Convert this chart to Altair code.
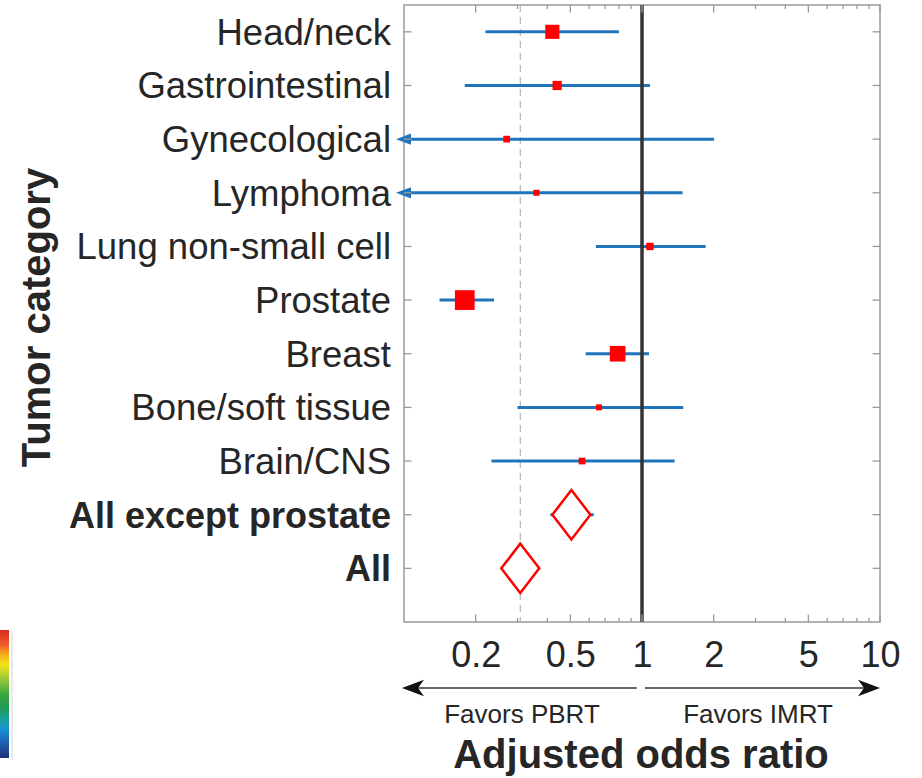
import altair as alt
import pandas as pd

# ---- data -------------------------------------------------------------
categories = [
    "Head/neck", "Gastrointestinal", "Gynecological", "Lymphoma",
    "Lung non-small cell", "Prostate", "Breast", "Bone/soft tissue",
    "Brain/CNS", "All except prostate", "All",
]
odds_ratio = [0.42, 0.44, 0.27, 0.36, 1.08, 0.18, 0.79, 0.66, 0.56, 0.505, 0.308]
ci_low = [0.22, 0.18, 0.10, 0.10, 0.64, 0.141, 0.58, 0.30, 0.233, 0.412, None]
ci_high = [0.80, 1.08, 2.01, 1.48, 1.85, 0.239, 1.07, 1.49, 1.37, 0.627, None]
# lower limit runs past the left edge of the axis
ci_low_truncated = [False, False, True, True, False, False, False, False, False, False, False]
# marker weight (square area) for each tumour category
weight = [200, 85, 45, 36, 55, 390, 245, 36, 45, None, None]
pooled = [False] * 9 + [True, True]

x_labels = [0.2, 0.5, 1, 2, 5, 10]
major_ticks = [0.2, 0.5, 1, 2, 5, 10]
minor_ticks = [0.3, 0.4, 0.6, 0.7, 0.8, 0.9, 3, 4, 6, 7, 8, 9]
null_value = 1

df = pd.DataFrame({
    "category": categories,
    "row": list(range(1, len(categories) + 1)),
    "or": odds_ratio,
    "lo": ci_low,
    "hi": ci_high,
    "truncated": ci_low_truncated,
    "weight": weight,
    "pooled": pooled,
})

W, H = 476, 617
FONT = "Liberation Sans"
TXT = "#262626"
BLUE = "#1f74bb"
RED = "#ff0000"
BOX = "#9a9a9a"

xs = alt.Scale(type="log", domain=[0.1, 10], nice=False)
ys = alt.Scale(domain=[0.5, len(categories) + 1], reverse=True, nice=False, zero=False)

base = alt.Chart(df)
one = alt.Chart(pd.DataFrame({"k": [0]}))

# dashed line at the pooled overall estimate
pooled_line = base.mark_rule(strokeDash=[7, 5], color="#b5b5b5", strokeWidth=1.2).encode(
    x=alt.X("or:Q", scale=xs, axis=alt.Axis(
        values=x_labels, labelExpr="'' + datum.value", labelFont=FONT, labelFontSize=36,
        labelColor=TXT, ticks=False, tickSize=0, domain=False, grid=False,
        labelPadding=44, labelBaseline="alphabetic", labelOverlap=False,
        labelBound=False, labelFlush=False, title=None)),
).transform_filter("datum.category == 'All'")

ci = base.mark_rule(color=BLUE, strokeWidth=3).encode(
    x=alt.X("lo:Q", scale=xs),
    x2="hi:Q",
    y=alt.Y("row:Q", scale=ys, axis=None),
).transform_filter("isValid(datum.lo)")

ci_arrow = base.mark_point(
    shape="M-1,0L1,-0.75L1,0.75Z", filled=True, color=BLUE, opacity=1, size=225,
    xOffset=-0.5, clip=False,
).encode(
    x=alt.X("lo:Q", scale=xs),
    y=alt.Y("row:Q", scale=ys),
).transform_filter("datum.truncated")

ref_line = alt.Chart(pd.DataFrame({"v": [null_value]})).mark_rule(
    color="#333333", strokeWidth=3.5
).encode(x=alt.X("v:Q", scale=xs))

squares = base.mark_square(color=RED, opacity=1).encode(
    x=alt.X("or:Q", scale=xs),
    y=alt.Y("row:Q", scale=ys),
    size=alt.Size("weight:Q", scale=None, legend=None),
).transform_filter("!datum.pooled")

diamonds = base.mark_point(
    shape="M0,-1.3L1,0L0,1.3L-1,0Z", filled=True, fill="white", stroke=RED,
    strokeWidth=2.5, opacity=1, size=1444,
).encode(
    x=alt.X("or:Q", scale=xs),
    y=alt.Y("row:Q", scale=ys),
).transform_filter("datum.pooled")

# inward ticks (box style axes)
major_df = alt.Chart(pd.DataFrame({"v": major_ticks}))
minor_df = alt.Chart(pd.DataFrame({"v": minor_ticks}))


def xticks(src, length):
    bottom = src.mark_rule(color=BOX, strokeWidth=1.3).encode(
        x=alt.X("v:Q", scale=xs), y=alt.value(H), y2=alt.value(H - length))
    top = src.mark_rule(color=BOX, strokeWidth=1.3).encode(
        x=alt.X("v:Q", scale=xs), y=alt.value(0), y2=alt.value(length))
    return [bottom, top]


yticks_l = base.mark_rule(color=BOX, strokeWidth=1.3).encode(
    y=alt.Y("row:Q", scale=ys), x=alt.value(0), x2=alt.value(7.5))
yticks_r = base.mark_rule(color=BOX, strokeWidth=1.3).encode(
    y=alt.Y("row:Q", scale=ys), x=alt.value(W), x2=alt.value(W - 7.5))

# category labels
labels_plain = base.mark_text(
    align="right", baseline="alphabetic", dy=13, font=FONT, fontSize=36.5, color=TXT
).encode(x=alt.value(-13), y=alt.Y("row:Q", scale=ys), text="category:N"
).transform_filter("!datum.pooled")
labels_bold = base.mark_text(
    align="right", baseline="alphabetic", dy=13, font=FONT, fontSize=36,
    fontWeight="bold", color=TXT
).encode(x=alt.value(-13), y=alt.Y("row:Q", scale=ys), text="category:N"
).transform_filter("datum.pooled")

# direction arrows under the axis
ARROW_Y = 683
arrow_left_line = one.mark_rule(color="#333333", strokeWidth=1.5).encode(
    x=alt.value(2), x2=alt.value(232.7), y=alt.value(ARROW_Y))
arrow_right_line = one.mark_rule(color="#333333", strokeWidth=1.5).encode(
    x=alt.value(241), x2=alt.value(466), y=alt.value(ARROW_Y))
head_left = one.mark_point(
    shape="M-1,0L1,-0.75L0.45,0L1,0.75Z", filled=True, color="#111111", opacity=1,
    size=484, clip=False).encode(x=alt.value(9), y=alt.value(ARROW_Y))
head_right = one.mark_point(
    shape="M1,0L-1,-0.75L-0.45,0L-1,0.75Z", filled=True, color="#111111", opacity=1,
    size=484, clip=False).encode(x=alt.value(W - 11), y=alt.value(ARROW_Y))

favors_left = one.mark_text(
    text="Favors PBRT", font=FONT, fontSize=26, color=TXT, align="center",
    baseline="alphabetic").encode(x=alt.value(118), y=alt.value(718))
favors_right = one.mark_text(
    text="Favors IMRT", font=FONT, fontSize=26, color=TXT, align="center",
    baseline="alphabetic").encode(x=alt.value(354), y=alt.value(718))

x_title = one.mark_text(
    text="Adjusted odds ratio", font=FONT, fontSize=40, fontWeight="bold", color=TXT,
    align="center", baseline="alphabetic").encode(x=alt.value(W / 2 - 1), y=alt.value(763))
y_title = one.mark_text(
    text="Tumor category", font=FONT, fontSize=40, fontWeight="bold", color=TXT,
    align="center", baseline="alphabetic", angle=270).encode(
    x=alt.value(-354), y=alt.value(H / 2 + 4))

# colour scale strip at the lower left
cbar = one.mark_rect(
    color=alt.LinearGradient(
        gradient="linear", x1=0, x2=0, y1=0, y2=1,
        stops=[
            alt.GradientStop(color="#d42a20", offset=0.0),
            alt.GradientStop(color="#f0602a", offset=0.12),
            alt.GradientStop(color="#f7b51c", offset=0.2),
            alt.GradientStop(color="#f2e41a", offset=0.27),
            alt.GradientStop(color="#9cc83a", offset=0.38),
            alt.GradientStop(color="#3aa83a", offset=0.5),
            alt.GradientStop(color="#219a52", offset=0.6),
            alt.GradientStop(color="#1aa0a0", offset=0.7),
            alt.GradientStop(color="#1a90d0", offset=0.78),
            alt.GradientStop(color="#1f5fb0", offset=0.88),
            alt.GradientStop(color="#23317a", offset=1.0),
        ]),
    clip=False,
).encode(x=alt.value(-404), x2=alt.value(-395), y=alt.value(625), y2=alt.value(753))
cbar_edge = one.mark_rule(color="#c8c8c8", strokeWidth=0.8).encode(
    x=alt.value(-392), y=alt.value(627), y2=alt.value(755))

chart = alt.layer(
    cbar, cbar_edge,
    pooled_line, ci, ci_arrow, ref_line, squares, diamonds,
    *xticks(major_df, 7.5), *xticks(minor_df, 4), yticks_l, yticks_r,
    labels_plain, labels_bold,
    arrow_left_line, arrow_right_line, head_left, head_right,
    favors_left, favors_right, x_title, y_title,
).properties(
    width=W, height=H,
    autosize=alt.AutoSizeParams(type="none"),
    padding={"left": 404, "top": 5, "right": 42, "bottom": 156},
    background="white",
).configure_view(stroke=BOX, strokeWidth=1.5)

chart.save("out.html", embed_options={"renderer": "svg", "actions": False})
